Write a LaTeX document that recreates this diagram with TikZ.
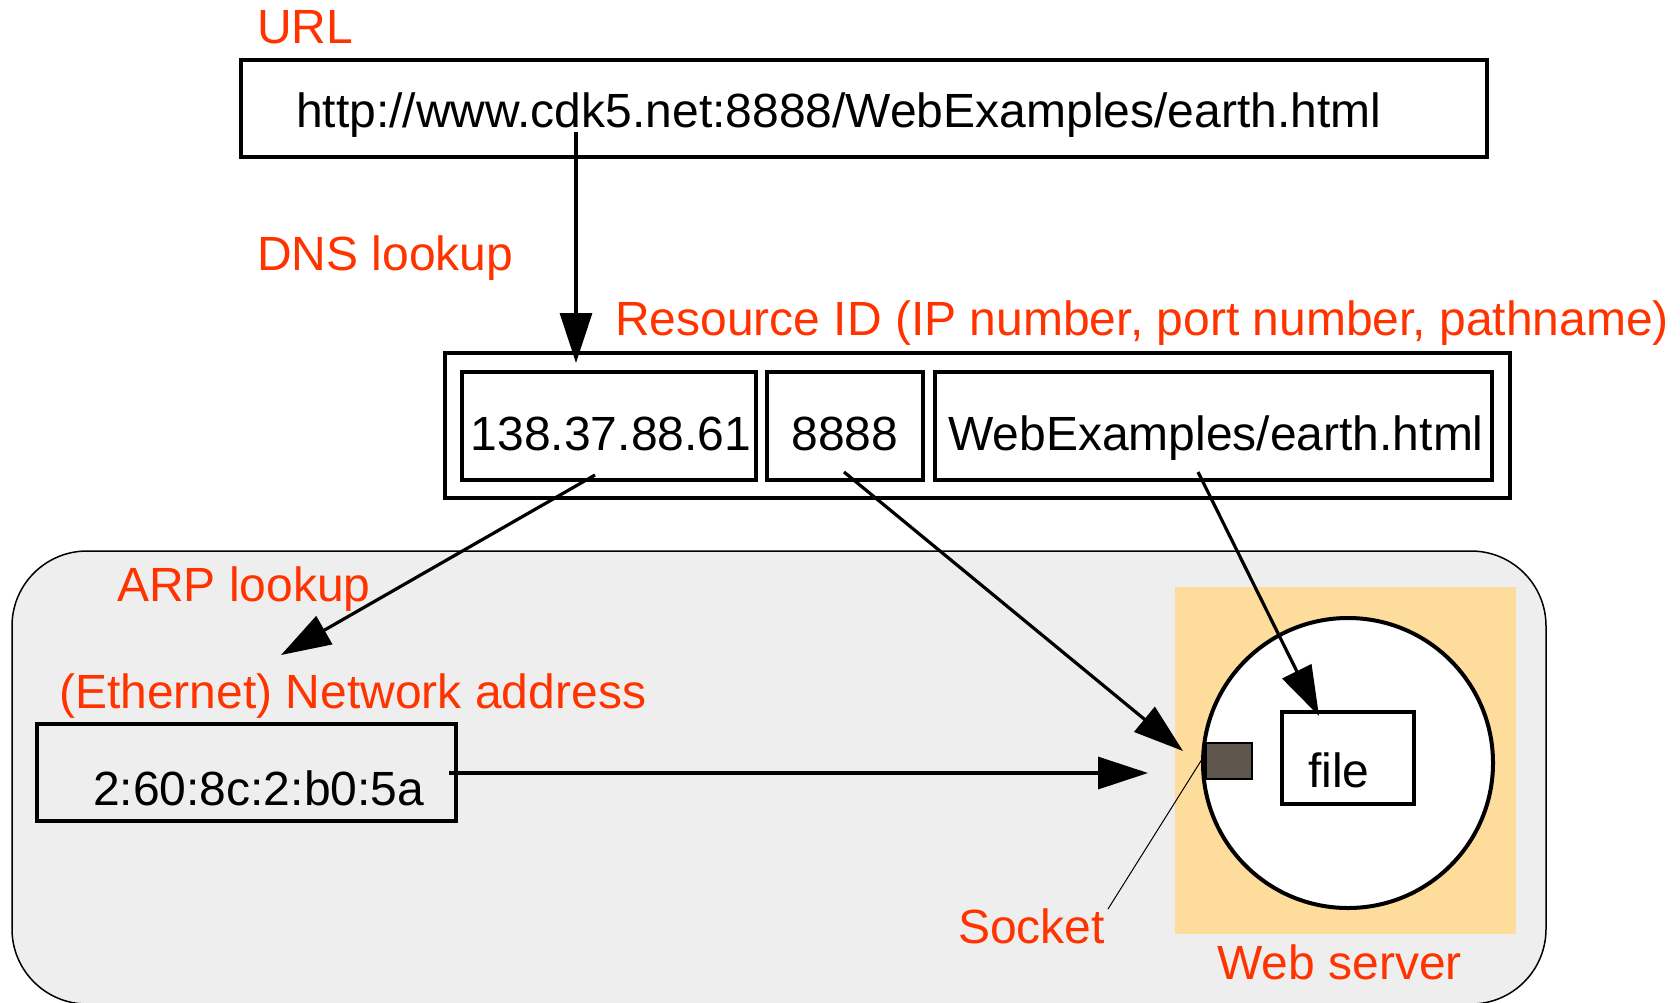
\documentclass[tikz,border=0pt]{standalone}
\usepackage{fontspec}
\setmainfont{Liberation Sans}
\usetikzlibrary{arrows.meta, positioning}
\definecolor{tagred}{RGB}{255,51,0}
\definecolor{lanfill}{HTML}{EEEEEE}
\definecolor{serverfill}{HTML}{FEDC9C}
\definecolor{socketfill}{HTML}{5E554C}
\newcommand{\diagfont}{\fontsize{48}{57}\selectfont}
\tikzset{
x=1pt, y=-1pt, % one unit is one pixel of the drawing
tag/.style={text=tagred, font=\diagfont, inner sep=0pt, anchor=base west}, % red captions
val/.style={font=\diagfont, inner sep=0pt}, % black values
box/.style={draw, line width=3.5pt, inner sep=0pt}, % plain boxes
link/.style={line width=3.2pt, -{Triangle[length=50pt,width=32pt]}}, % lookups
}

\begin{document}
\begin{tikzpicture}
        \useasboundingbox (0,0) rectangle (1680,1002);

        % local network and web server
        \draw[fill=lanfill, line width=1.5pt, rounded corners=75pt] (12,551) rectangle (1546,1004);
        \node[fill=serverfill, minimum width=341pt, minimum height=347pt, inner sep=0pt] (server) at (1345.5,760.5) {};
        \node[circle, draw, fill=white, line width=4pt, minimum size=290pt, inner sep=0pt] (proc) at (1348,763) {};
        \node[draw, fill=socketfill, line width=1.5pt, minimum width=46pt, minimum height=36pt, inner sep=0pt] (socket) at (1229,761) {};
        \node[box, minimum width=132pt, minimum height=92pt] (file) at (1348,758) {};
        \node[val, anchor=base west] (filetext) at (1308,787) {file};

        % URL
        \node[tag] (urltag) at (257,43) {URL};
        \node[box, minimum width=1246pt, minimum height=97pt] (url) at (864,108.5) {};
        \node[val, anchor=base west] (urltext) at (296,127) {http://www.cdk5.net:8888/WebExamples/earth.html};
        \node[tag] (dnstag) at (257,270) {DNS lookup};

        % resource ID
        \node[tag] (restag) at (615,335) {Resource ID (IP number, port number, pathname)};
        \node[box, minimum width=1065pt, minimum height=145pt] (resid) at (977.5,425.5) {};
        \node[box, minimum width=294pt, minimum height=108pt] (ipbox) at (609,426) {};
        \node[box, minimum width=156pt, minimum height=108pt] (portbox) at (845,426) {};
        \node[box, minimum width=557pt, minimum height=108pt] (pathbox) at (1213.5,426) {};
        \node[val, anchor=base] (iptext) at (611,450) {138.37.88.61};
        \node[val, anchor=base] (porttext) at (845,450) {8888};
        \node[val, anchor=base] (pathtext) at (1216,450) {WebExamples/earth.html};

        % network address
        \node[tag] (arptag) at (117,601) {ARP lookup};
        \node[tag] (nettag) at (59,708) {(Ethernet) Network address};
        \node[box, minimum width=419pt, minimum height=97pt] (mac) at (246.5,772.5) {};
        \node[val, anchor=base west] (mactext) at (93,805) {2:60:8c:2:b0:5a};

        \node[tag] (socktag) at (958,943) {Socket};
        \node[tag] (servertag) at (1217,979) {Web server};

        % connectors
        \coordinate (dnsfrom) at (576,132);
        \coordinate (dnsto) at (576,363);
        \coordinate (arpfrom) at (595,475);
        \coordinate (arpto) at (281,655);
        \coordinate (portfrom) at (844,472);
        \coordinate (portto) at (1183,751);
        \coordinate (pathfrom) at (1198,472);
        \coordinate (pathto) at (1319,716);
        \coordinate (macfrom) at (449,773);
        \coordinate (macto) at (1148,773);
        \coordinate (sockfrom) at (1108,909);
        \coordinate (sockto) at (1204,756);

        \draw[link] (dnsfrom) -- (dnsto);
        \draw[link] (arpfrom) -- (arpto);
        \draw[link] (portfrom) -- (portto);
        \draw[link] (pathfrom) -- (pathto);
        \draw[link] (macfrom) -- (macto);
        \draw[line width=1pt] (sockfrom) -- (sockto);
\end{tikzpicture}
\end{document}
